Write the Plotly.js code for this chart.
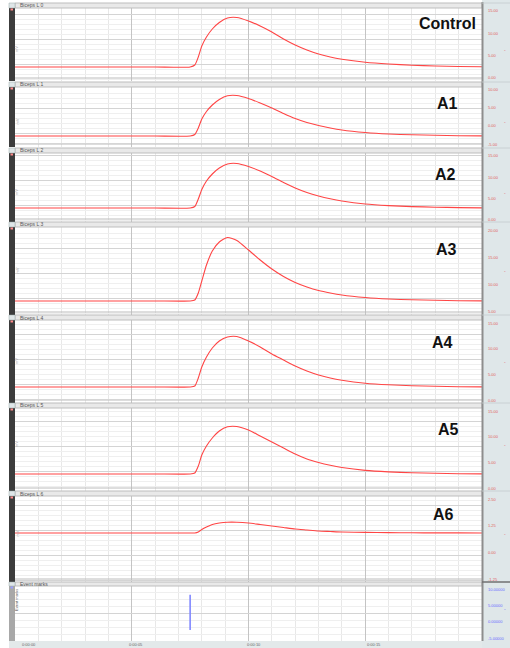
<!DOCTYPE html>
<html><head><meta charset="utf-8">
<script src="https://cdn.plot.ly/plotly-3.0.1.min.js"></script>
<style>html,body{margin:0;padding:0;background:#fff;overflow:hidden;} #chart{width:510px;height:648px;}</style>
</head><body><div id="chart"></div>
<script>
// ---- data (time in s, response amplitude in mV above baseline) ----
const time    = [0,2,4,6,7.5,7.7,7.85,8.0,8.2,8.45,8.75,9.1,9.5,10,10.5,11,11.5,12,12.5,13,13.5,14,15,16,17,18,19,20];
const control = [0,0,0,0,0,0.2,1.0,2.1,3.0,3.8,4.45,4.9,4.95,4.6,4.1,3.5,2.8,2.2,1.7,1.3,1.0,0.78,0.48,0.3,0.18,0.1,0.05,0.02];
const a1      = [0,0,0,0,0,0.15,0.8,1.7,2.45,3.1,3.65,4.02,4.05,3.75,3.3,2.8,2.25,1.75,1.35,1.05,0.8,0.6,0.35,0.2,0.12,0.07,0.03,0.01];
const a2      = [0,0,0,0,0,0.15,0.9,1.85,2.7,3.4,4.0,4.4,4.45,4.15,3.7,3.15,2.55,2.0,1.55,1.2,0.92,0.7,0.4,0.24,0.14,0.08,0.04,0.01];
const a3      = [0,0,0,0,0,0.1,0.8,2.0,3.6,5.0,5.9,6.35,6.05,5.1,4.1,3.2,2.45,1.85,1.4,1.05,0.8,0.6,0.35,0.2,0.12,0.07,0.03,0.01];
const a4      = [0,0,0,0,0,0.1,0.9,2.0,3.0,3.9,4.6,5.0,5.05,4.6,4.0,3.3,2.7,2.1,1.6,1.2,0.9,0.68,0.38,0.22,0.13,0.07,0.03,0.01];
const a5      = [0,0,0,0,0,0.1,0.8,1.9,2.8,3.6,4.3,4.72,4.75,4.4,3.8,3.2,2.6,2.0,1.5,1.15,0.87,0.65,0.36,0.21,0.12,0.07,0.03,0.01];
const a6      = [0,0,0,0,0,0,0.1,0.35,0.6,0.85,1.0,1.08,1.08,1.0,0.85,0.7,0.55,0.4,0.3,0.2,0.15,0.1,0.06,0.04,0.02,0.01,0.01,0];
const seriesNames = ['Control','A1','A2','A3','A4','A5','A6'];
const seriesValues = [control,a1,a2,a3,a4,a5,a6];
const eventTime = [7.5];
const eventSpan = [0.2, 0.84];
const channelNames = ['Biceps L 0','Biceps L 1','Biceps L 2','Biceps L 3','Biceps L 4','Biceps L 5','Biceps L 6','Event marks'];
const rightLabels = [
  ['15.00','10.00','5.00','0.00'],
  ['10.00','5.00','0.00','-5.00'],
  ['15.00','10.00','5.00','0.00'],
  ['20.00','15.00','10.00','5.00'],
  ['15.00','10.00','5.00','0.00'],
  ['15.00','10.00','5.00','0.00'],
  ['2.50','1.25','0.00','-1.25']
];
const eventLabels = ['10.00000','5.00000','0.00000','-5.00000'];
const timeLabels = ['0:00:00','0:00:05','0:00:10','0:00:15'];

// ---- layout geometry (pixels) ----
const W = 510, H = 648;
const px = x => x / W;
const py = y => 1 - y / H;
const X0 = 15, X1 = 482;
const panels = [
  {h:3,   t:8,   b:81},
  {h:82,  t:87,  b:147},
  {h:148, t:153, b:222},
  {h:222, t:227, b:315},
  {h:315, t:320, b:403},
  {h:403, t:408, b:491},
  {h:491, t:496, b:582},
  {h:582, t:586, b:641}
];
const yRanges = [[-1.4,5.9],[-1.1,4.9],[-1.4,5.5],[-1.4,7.4],[-1.6,6.7],[-1.7,6.6],[-4.9,3.7],[0,1]];
const labelPos = [[447,23],[447,103],[445,174],[446,250],[442,342],[448,430],[443,514]];

const traces = [];
seriesValues.forEach((vals, i) => {
  const n = i === 0 ? '' : String(i + 1);
  traces.push({
    x: time, y: vals, xaxis: 'x' + n, yaxis: 'y' + n, type: 'scatter', mode: 'lines',
    line: {color: '#ff4545', width: 1.1, shape: 'spline', smoothing: 0.6},
    name: seriesNames[i], hoverinfo: 'skip', showlegend: false
  });
});
traces.push({
  x: [eventTime[0], eventTime[0]], y: eventSpan, xaxis: 'x8', yaxis: 'y8', type: 'scatter', mode: 'lines',
  line: {color: '#8088ff', width: 1.6}, showlegend: false, hoverinfo: 'skip'
});

const layout = {
  width: W, height: H, margin: {l:0, r:0, t:0, b:0},
  paper_bgcolor: '#ffffff', plot_bgcolor: '#ffffff', showlegend: false,
  shapes: [], annotations: []
};

panels.forEach((p, i) => {
  const n = i === 0 ? '' : String(i + 1);
  layout['xaxis' + n] = {
    domain: [px(X0), px(X1)], anchor: 'y' + n, range: [0, 20],
    showticklabels: false, ticks: '', zeroline: false, showline: false,
    showgrid: true, gridcolor: '#c4c4c4', gridwidth: 1, dtick: 5, tick0: 0,
    minor: {dtick: 1, showgrid: true, gridcolor: '#e8e8e8', gridwidth: 1},
    fixedrange: true
  };
  if (i > 0) layout['xaxis' + n].matches = 'x';
  const r = yRanges[i];
  layout['yaxis' + n] = {
    domain: [py(p.b), py(p.t)], anchor: 'x' + n, range: r,
    showticklabels: false, ticks: '', zeroline: false, showline: false,
    showgrid: true, gridcolor: '#d4d4d4', dtick: i === 7 ? 0.5 : 2.5, tick0: i === 7 ? 0 : 0.3,
    minor: {dtick: i === 7 ? 0.125 : 0.5, tick0: i === 7 ? 0 : 0.3, showgrid: true, gridcolor: '#efefef'},
    fixedrange: true
  };
  // header strip
  layout.shapes.push({type:'rect', xref:'paper', yref:'paper', x0:px(X0), x1:px(X1), y0:py(p.t), y1:py(p.h),
    fillcolor:'#e9e9e9', line:{color:'#bdbdbd', width:1}, layer:'above'});
  layout.annotations.push({xref:'paper', yref:'paper', x:px(X0+3), y:py((p.h+p.t)/2), text:channelNames[i],
    showarrow:false, xanchor:'left', yanchor:'middle', font:{size:5, color:'#555', family:'Liberation Sans'}});
  // left bar
  layout.shapes.push({type:'rect', xref:'paper', yref:'paper', x0:px(9), x1:px(15), y0:py(p.b), y1:py(p.t),
    fillcolor: i === 7 ? '#a8a8a8' : '#3c3c3c', line:{width:0}, layer:'above'});
  layout.shapes.push({type:'rect', xref:'paper', yref:'paper', x0:px(9), x1:px(15), y0:py(p.t), y1:py(p.h),
    fillcolor:'#dfe6e8', line:{color:'#9aa', width:0.5}, layer:'above'});
  layout.shapes.push({type:'rect', xref:'paper', yref:'paper', x0:px(10.5), x1:px(13), y0:py(p.t+2.5), y1:py(p.t+0.5),
    fillcolor: i === 7 ? '#9aa0ff' : '#ff8a8a', line:{width:0}, layer:'above'});
  layout.annotations.push({xref:'paper', yref:'paper', x:px(12), y:py((p.t+p.b)/2), text: i === 7 ? 'Event marks' : 'mV',
    showarrow:false, textangle:-90, font:{size:4, color: i === 7 ? '#555' : '#aaa', family:'Liberation Sans'}});
  // bottom double line
  if (i < 7) {
    layout.shapes.push({type:'line', xref:'paper', yref:'paper', x0:px(X0), x1:px(X1), y0:py(p.b-3), y1:py(p.b-3),
      line:{color:'#bcbcbc', width:1}, layer:'above'});
  }
});

// right panel
layout.shapes.push({type:'rect', xref:'paper', yref:'paper', x0:px(X1), x1:1, y0:0, y1:1,
  fillcolor:'#dfe7e9', line:{width:0}, layer:'above'});
layout.shapes.push({type:'line', xref:'paper', yref:'paper', x0:px(X1+0.5), x1:px(X1+0.5), y0:py(641), y1:py(2),
  line:{color:'#8d8d8d', width:2}, layer:'above'});
panels.forEach((p, i) => {
  layout.shapes.push({type:'line', xref:'paper', yref:'paper', x0:px(X1), x1:1, y0:py(p.h), y1:py(p.h),
    line:{color: i === 7 ? '#707070' : '#c3cbcd', width: i === 7 ? 1.5 : 0.8}, layer:'above'});
  const labs = i === 7 ? eventLabels : rightLabels[i];
  labs.forEach((t, k) => {
    const y = p.t + 3 + k * (p.b - p.t - 6) / (labs.length - 1);
    layout.annotations.push({xref:'paper', yref:'paper', x:px(486), y:py(y), text:t, showarrow:false,
      xanchor:'left', yanchor:'middle', font:{size:4, color: i === 7 ? '#6a6aff' : '#e06060', family:'Liberation Sans'}});
  });
  layout.annotations.push({xref:'paper', yref:'paper', x:px(508), y:py((p.t+p.b)/2), text:'-', showarrow:false,
    font:{size:5, color: i === 7 ? '#6a6aff' : '#e06060'}});
});

// bottom time strip
layout.shapes.push({type:'rect', xref:'paper', yref:'paper', x0:px(9), x1:px(X1), y0:0, y1:py(641),
  fillcolor:'#e3e9ea', line:{width:0}, layer:'above'});
[20, 127, 245, 365].forEach((x, k) => {
  layout.annotations.push({xref:'paper', yref:'paper', x:px(x), y:py(644.5), text:timeLabels[k], showarrow:false,
    xanchor:'left', yanchor:'middle', font:{size:4, color:'#666', family:'Liberation Sans'}});
});

// panel labels
seriesNames.forEach((name, i) => {
  layout.annotations.push({xref:'paper', yref:'paper', x:px(labelPos[i][0]), y:py(labelPos[i][1]), text:'<b>' + name + '</b>',
    showarrow:false, xanchor:'center', yanchor:'middle', font:{size:16, color:'#111', family:'Liberation Sans'}});
});

Plotly.newPlot('chart', traces, layout, {staticPlot: true, displayModeBar: false});
</script></body></html>
